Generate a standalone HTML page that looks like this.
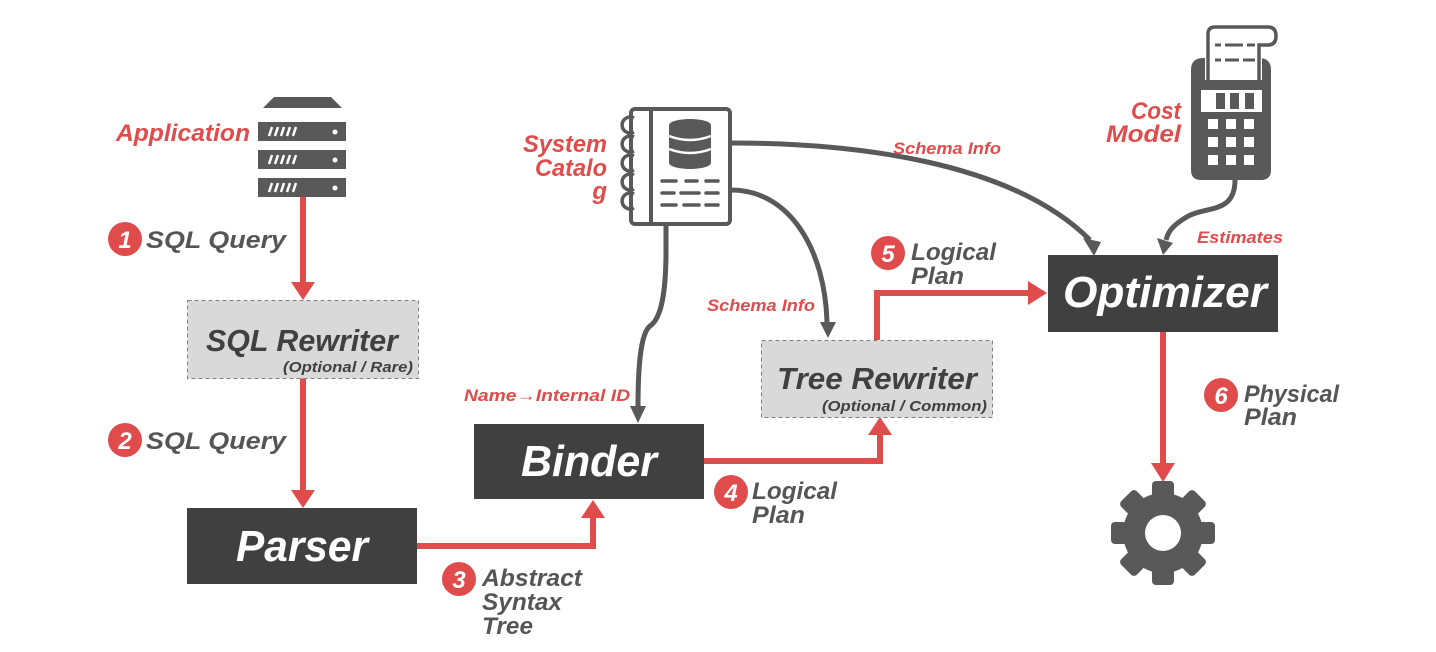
<!DOCTYPE html>
<html><head><meta charset="utf-8"><style>
html,body{margin:0;padding:0;background:#fff;}
svg{display:block;}
text{font-family:"Liberation Sans",sans-serif;font-weight:bold;font-style:italic;}
.r{fill:#e04b4b;}
.g{fill:#555;}
.w{fill:#fff;}
</style></head><body>
<svg width="1436" height="652" viewBox="0 0 1436 652" xmlns="http://www.w3.org/2000/svg">

<!-- Server icon -->
<polygon points="274,97 331,97 342,108 263,108" fill="#595959"/>
<g fill="#595959">
<rect x="258" y="122" width="88" height="19"/>
<rect x="258" y="150" width="88" height="19"/>
<rect x="258" y="178" width="88" height="19"/>
</g>
<g stroke="#fff" stroke-width="2.5">
<path d="M269,136 l3,-9 M275,136 l3,-9 M281,136 l3,-9 M287,136 l3,-9 M293,136 l3,-9"/>
<path d="M269,164 l3,-9 M275,164 l3,-9 M281,164 l3,-9 M287,164 l3,-9 M293,164 l3,-9"/>
<path d="M269,192 l3,-9 M275,192 l3,-9 M281,192 l3,-9 M287,192 l3,-9 M293,192 l3,-9"/>
</g>
<circle cx="335" cy="132" r="2.5" fill="#fff"/><circle cx="335" cy="160" r="2.5" fill="#fff"/><circle cx="335" cy="188" r="2.5" fill="#fff"/>
<text x="250" y="141" class="r" font-size="24" text-anchor="end" textLength="134" lengthAdjust="spacingAndGlyphs">Application</text>

<!-- Red arrows -->
<g stroke="#e04b4b" stroke-width="6" fill="none">
<path d="M303,197 V284"/>
<path d="M303,378 V492"/>
<path d="M417,546 H593 V516"/>
<path d="M704,461 H880 V432"/>
<path d="M877,340 V293 H1030"/>
<path d="M1163,332 V466"/>
</g>
<g fill="#e04b4b">
<polygon points="291,282 315,282 303,300"/>
<polygon points="291,490 315,490 303,508"/>
<polygon points="581,518 605,518 593,500"/>
<polygon points="868,435 892,435 880,417"/>
<polygon points="1028,281 1028,305 1047,293"/>
<polygon points="1151,463 1175,463 1163,482"/>
</g>

<!-- Boxes -->
<rect x="187.5" y="300.5" width="231" height="78" fill="#d9d9d9" stroke="#808080" stroke-dasharray="4,3"/>
<text x="302" y="351" font-size="31" text-anchor="middle" textLength="192" lengthAdjust="spacingAndGlyphs" style="fill:#404040">SQL Rewriter</text>
<text x="413" y="372" font-size="15" text-anchor="end" style="fill:#404040" textLength="130" lengthAdjust="spacingAndGlyphs">(Optional / Rare)</text>

<rect x="187" y="508" width="230" height="76" fill="#404040"/>
<text x="302" y="561" class="w" font-size="44" text-anchor="middle" textLength="132" lengthAdjust="spacingAndGlyphs">Parser</text>

<rect x="474" y="424" width="230" height="75" fill="#404040"/>
<text x="589" y="476" class="w" font-size="44" text-anchor="middle" textLength="136" lengthAdjust="spacingAndGlyphs">Binder</text>

<rect x="761.5" y="340.5" width="231" height="77" fill="#d9d9d9" stroke="#808080" stroke-dasharray="4,3"/>
<text x="877" y="389" font-size="31" text-anchor="middle" style="fill:#404040" textLength="200" lengthAdjust="spacingAndGlyphs">Tree Rewriter</text>
<text x="987" y="411" font-size="15" text-anchor="end" style="fill:#404040" textLength="165" lengthAdjust="spacingAndGlyphs">(Optional / Common)</text>

<rect x="1048" y="255" width="230" height="77" fill="#404040"/>
<text x="1165" y="307" class="w" font-size="44" text-anchor="middle" textLength="204" lengthAdjust="spacingAndGlyphs">Optimizer</text>

<!-- Badges -->
<g fill="#e04b4b">
<circle cx="125" cy="239" r="17"/><circle cx="125" cy="440" r="17"/>
<circle cx="459" cy="579" r="17"/><circle cx="731" cy="492" r="17"/>
<circle cx="888" cy="253" r="17"/><circle cx="1221" cy="395" r="17"/>
</g>
<g font-size="24" text-anchor="middle" style="font-style:normal">
<text x="125" y="248" class="w">1</text><text x="125" y="449" class="w">2</text>
<text x="459" y="588" class="w">3</text><text x="731" y="501" class="w">4</text>
<text x="888" y="262" class="w">5</text><text x="1221" y="404" class="w">6</text>
</g>
<g font-size="24">
<text x="146" y="248" class="g" textLength="140" lengthAdjust="spacingAndGlyphs">SQL Query</text>
<text x="146" y="449" class="g" textLength="140" lengthAdjust="spacingAndGlyphs">SQL Query</text>
<text x="482" y="586" class="g" textLength="100" lengthAdjust="spacingAndGlyphs">Abstract</text>
<text x="482" y="610" class="g" textLength="80" lengthAdjust="spacingAndGlyphs">Syntax</text>
<text x="482" y="634" class="g" textLength="51" lengthAdjust="spacingAndGlyphs">Tree</text>
<text x="752" y="499" class="g" textLength="85" lengthAdjust="spacingAndGlyphs">Logical</text>
<text x="752" y="523" class="g" textLength="53" lengthAdjust="spacingAndGlyphs">Plan</text>
<text x="911" y="260" class="g" textLength="85" lengthAdjust="spacingAndGlyphs">Logical</text>
<text x="911" y="284" class="g" textLength="53" lengthAdjust="spacingAndGlyphs">Plan</text>
<text x="1244" y="402" class="g" textLength="95" lengthAdjust="spacingAndGlyphs">Physical</text>
<text x="1244" y="425" class="g" textLength="53" lengthAdjust="spacingAndGlyphs">Plan</text>
</g>

<!-- Gray connectors -->
<g stroke="#595959" stroke-width="5" fill="none">
<path d="M731,143 C850,143 1010,160 1090,240"/>
<path d="M731,190 C790,190 825,250 827,322"/>
<path d="M666,225 V250 C666,290 662,318 650,326 C640,334 638,370 638,408"/>
<path d="M1235,180 C1235,215 1205,205 1185,218 C1172,226 1168,232 1166,240"/>
</g>
<g fill="#595959">
<polygon points="1083,238 1101,242 1094,256"/>
<polygon points="820,322 836,322 828,338"/>
<polygon points="630,406 646,406 638,423"/>
<polygon points="1157,238 1173,243 1163,255"/>
</g>
<text x="893" y="154" class="r" font-size="17" textLength="108" lengthAdjust="spacingAndGlyphs">Schema Info</text>
<text x="707" y="311" class="r" font-size="17" textLength="108" lengthAdjust="spacingAndGlyphs">Schema Info</text>
<text x="464" y="401" class="r" font-size="17" textLength="166" lengthAdjust="spacingAndGlyphs">Name→Internal ID</text>
<text x="1197" y="243" class="r" font-size="17" textLength="86" lengthAdjust="spacingAndGlyphs">Estimates</text>

<!-- Notebook -->
<rect x="631" y="109" width="99" height="115" rx="4" fill="#fff" stroke="#595959" stroke-width="4"/>
<line x1="651" y1="109" x2="651" y2="224" stroke="#595959" stroke-width="4"/>
<g fill="none" stroke="#595959" stroke-width="3.5">
<path d="M634,118 a8,8 0 1 0 0,14"/><path d="M634,137 a8,8 0 1 0 0,14"/>
<path d="M634,156 a8,8 0 1 0 0,14"/><path d="M634,175 a8,8 0 1 0 0,14"/>
<path d="M634,194 a8,8 0 1 0 0,14"/>
</g>
<g fill="#595959">
<ellipse cx="690" cy="125" rx="21" ry="6"/>
<rect x="669" y="125" width="42" height="38" rx="2"/>
<ellipse cx="690" cy="163" rx="21" ry="6"/>
</g>
<g stroke="#fff" stroke-width="2.5" fill="none">
<path d="M669,136 q21,8 42,0"/><path d="M669,149 q21,8 42,0"/>
</g>
<g stroke="#595959" stroke-width="3.5" stroke-linecap="round">
<path d="M662,181 h14 M686,181 h11 M706,181 h12"/>
<path d="M662,193 h12 M681,193 h18 M706,193 h12"/>
<path d="M662,205 h14 M684,205 h15 M706,205 h12"/>
</g>
<g font-size="24" text-anchor="end">
<text x="607" y="152" class="r" textLength="84" lengthAdjust="spacingAndGlyphs">System</text>
<text x="607" y="176" class="r" textLength="72" lengthAdjust="spacingAndGlyphs">Catalo</text>
<text x="607" y="199" class="r">g</text>
</g>

<!-- Calculator -->
<path d="M1208,80 V34 q0,-7 7,-7 H1268 q8,0 8,9 q0,9 -8,9 H1259 V80" fill="#fff" stroke="#595959" stroke-width="3.5"/>
<g stroke="#595959" stroke-width="3"><path d="M1215,45 h6 M1225,45 h18 M1247,45 h8 M1215,60 h6 M1225,60 h14 M1243,60 h12"/></g>
<path d="M1191,70 q0,-12 12,-12 H1205 V80 H1262 V58 H1259 q12,0 12,12 V170 q0,10 -10,10 H1201 q-10,0 -10,-10 Z" fill="#595959"/>
<rect x="1201" y="90" width="61" height="22" fill="#fff"/>
<g fill="#595959"><rect x="1216" y="93" width="9" height="16"/><rect x="1230" y="93" width="9" height="16"/><rect x="1245" y="93" width="9" height="16"/></g>
<g fill="#fff">
<rect x="1208" y="119" width="10" height="10"/><rect x="1226" y="119" width="10" height="10"/><rect x="1244" y="119" width="10" height="10"/>
<rect x="1208" y="137" width="10" height="10"/><rect x="1226" y="137" width="10" height="10"/><rect x="1244" y="137" width="10" height="10"/>
<rect x="1208" y="155" width="10" height="10"/><rect x="1226" y="155" width="10" height="10"/><rect x="1244" y="155" width="10" height="10"/>
</g>
<text x="1181" y="119" class="r" font-size="24" text-anchor="end" textLength="50" lengthAdjust="spacingAndGlyphs">Cost</text>
<text x="1181" y="142" class="r" font-size="24" text-anchor="end" textLength="75" lengthAdjust="spacingAndGlyphs">Model</text>

<!-- Gear -->
<g fill="#595959" transform="translate(1163,533)">
<circle r="40"/>
<rect x="-11" y="-52" width="22" height="24" rx="4"/>
<rect x="-11" y="-52" width="22" height="24" rx="4" transform="rotate(45)"/>
<rect x="-11" y="-52" width="22" height="24" rx="4" transform="rotate(90)"/>
<rect x="-11" y="-52" width="22" height="24" rx="4" transform="rotate(135)"/>
<rect x="-11" y="-52" width="22" height="24" rx="4" transform="rotate(180)"/>
<rect x="-11" y="-52" width="22" height="24" rx="4" transform="rotate(225)"/>
<rect x="-11" y="-52" width="22" height="24" rx="4" transform="rotate(270)"/>
<rect x="-11" y="-52" width="22" height="24" rx="4" transform="rotate(315)"/>
<circle r="18" fill="#fff"/>
</g>
</svg>
</body></html>
